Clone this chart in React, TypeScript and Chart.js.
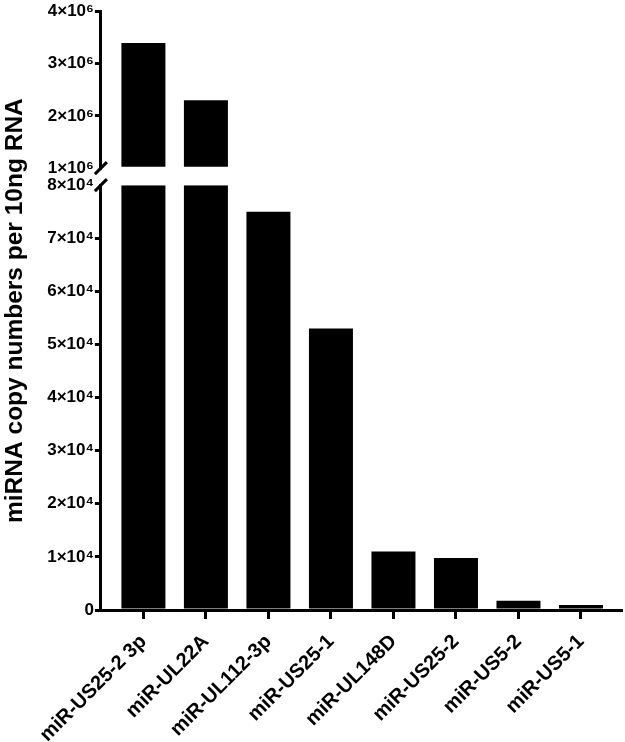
import React, { useEffect, useRef } from "react";
import { Chart, registerables } from "chart.js";

Chart.register(...registerables);

const categories = [
  "miR-US25-2 3p",
  "miR-UL22A",
  "miR-UL112-3p",
  "miR-US25-1",
  "miR-UL148D",
  "miR-US25-2",
  "miR-US5-2",
  "miR-US5-1",
];
const copyNumbers = [3390000, 2300000, 75000, 53000, 11000, 9800, 1750, 950];

const lowerMin = 0;
const lowerMax = 80000;
const lowerStep = 10000;
const lowerTickLabels = ["0", "1×10⁴", "2×10⁴", "3×10⁴", "4×10⁴", "5×10⁴", "6×10⁴", "7×10⁴", "8×10⁴"];

const upperMin = 1000000;
const upperMax = 4000000;
const upperStep = 1000000;
const upperTickLabels = ["1×10⁶", "2×10⁶", "3×10⁶", "4×10⁶"];

const yTitle = "miRNA copy numbers per 10ng RNA";

const FONT = "'Liberation Sans', Arial, Helvetica, sans-serif";

const breakPlugin = {
  id: "axisBreak",
  afterDraw(chart: any) {
    const ctx = chart.ctx;
    const up = chart.scales.yUpper;
    const lo = chart.scales.y;
    const x = chart.chartArea.left;
    ctx.save();
    ctx.strokeStyle = "#000";
    ctx.lineWidth = 3;
    [up.bottom, lo.top].forEach((y: number) => {
      ctx.beginPath();
      ctx.moveTo(x - 6, y + 6);
      ctx.lineTo(x + 6, y - 6);
      ctx.stroke();
    });
    ctx.restore();
  },
};

export default function App() {
  const ref = useRef<HTMLCanvasElement | null>(null);

  useEffect(() => {
    document.body.style.margin = "0";
    const canvas = ref.current;
    if (!canvas) return;

    const lowerData = copyNumbers.map((v, i) => ({ x: i, y: Math.min(v, lowerMax) }));
    const upperData = copyNumbers
      .map((v, i) => ({ x: i, y: v }))
      .filter((p) => p.y > lowerMax);

    const yTickFont = { family: FONT, size: 17, weight: "bold" as const };
    const xTickFont = { family: FONT, size: 20, weight: "bold" as const };

    const chart = new Chart(canvas, {
      type: "bar",
      data: {
        datasets: [
          {
            data: lowerData,
            yAxisID: "y",
            backgroundColor: "#000",
            borderWidth: 0,
            grouped: false,
            barPercentage: 0.88,
            categoryPercentage: 0.8,
          } as any,
          {
            data: upperData,
            yAxisID: "yUpper",
            backgroundColor: "#000",
            borderWidth: 0,
            grouped: false,
            base: upperMin,
            barPercentage: 0.88,
            categoryPercentage: 0.8,
          } as any,
        ],
      },
      options: {
        responsive: false,
        animation: false,
        layout: { padding: { top: 11, right: 4, left: 0, bottom: 0 } },
        plugins: {
          legend: { display: false },
          tooltip: { enabled: false },
          title: {
            display: true,
            text: yTitle,
            position: "left",
            fullSize: false,
            color: "#000",
            font: { family: FONT, size: 24.5, weight: "bold" },
            padding: { top: 1, bottom: 2.5 },
          },
        },
        scales: {
          x: {
            type: "linear",
            min: -0.68,
            max: 7.64,
            offset: false,
            afterBuildTicks: (scale: any) => {
              scale.ticks = categories.map((_, i) => ({ value: i }));
            },
            afterFit: (scale: any) => {
              scale.height = 132;
            },
            ticks: {
              autoSkip: false,
              maxRotation: 45,
              minRotation: 45,
              color: "#000",
              font: xTickFont,
              padding: 11,
              callback: (_v: any, i: number) => categories[i],
            },
            grid: {
              offset: false,
              drawOnChartArea: false,
              drawTicks: true,
              tickLength: 9,
              lineWidth: 3,
              color: "#000",
            },
            border: { display: true, color: "#000", width: 3 },
          },
          y: {
            type: "linear",
            position: "left",
            stack: "yaxis",
            stackWeight: 425,
            min: lowerMin,
            max: lowerMax,
            afterFit: (scale: any) => {
              scale.width = 68;
            },
            ticks: {
              stepSize: lowerStep,
              color: "#000",
              font: yTickFont,
              padding: 1,
              callback: (_v: any, i: number) => lowerTickLabels[i],
            },
            grid: {
              drawOnChartArea: false,
              drawTicks: true,
              tickLength: 6,
              lineWidth: 3,
              color: (c: any) => (c.tick && c.tick.value === lowerMax ? "rgba(0,0,0,0)" : "#000"),
            },
            border: { display: true, color: "#000", width: 3 },
          },
          yGap: {
            type: "linear",
            position: "left",
            stack: "yaxis",
            stackWeight: 17,
            display: true,
            afterFit: (scale: any) => {
              scale.width = 68;
            },
            ticks: { display: false },
            grid: { display: false, drawTicks: false },
            border: { display: false },
          },
          yUpper: {
            type: "linear",
            position: "left",
            stack: "yaxis",
            stackWeight: 157,
            min: upperMin,
            max: upperMax,
            afterFit: (scale: any) => {
              scale.width = 68;
            },
            ticks: {
              stepSize: upperStep,
              color: "#000",
              font: yTickFont,
              padding: 1,
              callback: (_v: any, i: number) => upperTickLabels[i],
            },
            grid: {
              drawOnChartArea: false,
              drawTicks: true,
              tickLength: 6,
              lineWidth: 3,
              color: (c: any) => (c.tick && c.tick.value === upperMin ? "rgba(0,0,0,0)" : "#000"),
            },
            border: { display: true, color: "#000", width: 3 },
          },
        },
      } as any,
      plugins: [breakPlugin],
    });

    return () => chart.destroy();
  }, []);

  return (
    <div style={{ width: 625, height: 742 }}>
      <canvas ref={ref} width={625} height={742} style={{ display: "block" }} />
    </div>
  );
}
